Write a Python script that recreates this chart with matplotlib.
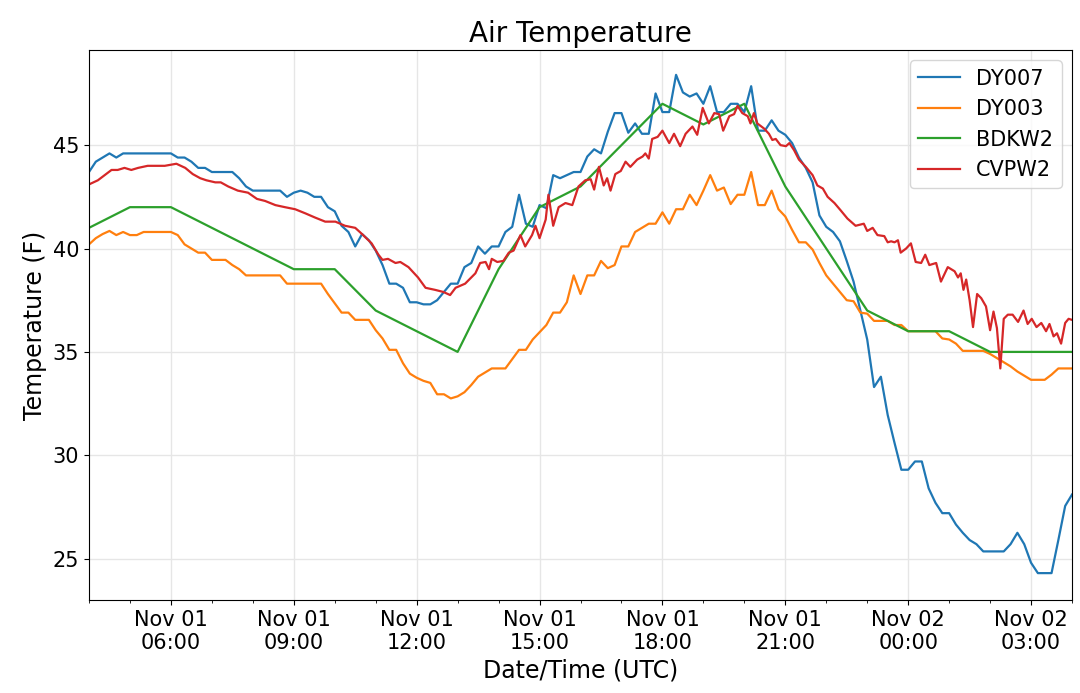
import matplotlib
matplotlib.use('Agg')
import matplotlib.pyplot as plt
import matplotlib.dates as mdates
import pandas as pd

# DY007 and DY003 report every 10 minutes, Nov 01 04:00 -> Nov 02 04:00
start = pd.Timestamp('2018-11-01 04:00')
times_10min = pd.date_range(start, periods=145, freq='10min')

dy007 = [43.7, 44.2, 44.4, 44.6, 44.4, 44.6, 44.6, 44.6, 44.6, 44.6, 44.6, 44.6, 44.6,
         44.4, 44.4, 44.2, 43.9, 43.9, 43.7, 43.7, 43.7, 43.7, 43.4, 43.0, 42.8, 42.8,
         42.8, 42.8, 42.8, 42.5, 42.7, 42.8, 42.7, 42.5, 42.5, 42.0, 41.8, 41.1, 40.8,
         40.1, 40.7, 40.4, 39.9, 39.2, 38.3, 38.3, 38.1, 37.4, 37.4, 37.3, 37.3, 37.5,
         37.9, 38.3, 38.3, 39.1, 39.3, 40.1, 39.75, 40.1, 40.1, 40.8, 41.05, 42.6, 41.2,
         41.05, 42.1, 41.95, 43.55, 43.4, 43.55, 43.7, 43.7, 44.45, 44.8, 44.6, 45.65,
         46.55, 46.55, 45.6, 46.05, 45.55, 45.55, 47.5, 46.6, 46.6, 48.4, 47.55, 47.35,
         47.5, 47.0, 47.85, 46.6, 46.6, 47.0, 47.0, 46.6, 47.85, 45.7, 45.7, 46.2, 45.7,
         45.5, 45.1, 44.4, 43.9, 43.2, 41.6, 41.05, 40.8, 40.35, 39.4, 38.4, 37.0, 35.6,
         33.3, 33.8, 31.95, 30.6, 29.3, 29.3, 29.7, 29.7, 28.4, 27.7, 27.2, 27.2, 26.65,
         26.25, 25.9, 25.7, 25.35, 25.35, 25.35, 25.35, 25.7, 26.25, 25.7, 24.8, 24.3,
         24.3, 24.3, 25.9, 27.55, 28.1]

dy003 = [40.2, 40.5, 40.7, 40.85, 40.65, 40.8, 40.65, 40.65, 40.8, 40.8, 40.8, 40.8, 40.8,
         40.65, 40.2, 40.0, 39.8, 39.8, 39.45, 39.45, 39.45, 39.2, 39.0, 38.7, 38.7, 38.7,
         38.7, 38.7, 38.7, 38.3, 38.3, 38.3, 38.3, 38.3, 38.3, 37.8, 37.35, 36.9, 36.9,
         36.55, 36.55, 36.55, 36.05, 35.65, 35.1, 35.1, 34.45, 33.95, 33.75, 33.6, 33.5,
         32.95, 32.95, 32.75, 32.85, 33.05, 33.4, 33.8, 34.0, 34.2, 34.2, 34.2, 34.65,
         35.1, 35.1, 35.6, 35.95, 36.3, 36.9, 36.9, 37.4, 38.7, 37.8, 38.7, 38.7, 39.4,
         39.05, 39.2, 40.1, 40.1, 40.8, 41.0, 41.2, 41.2, 41.75, 41.2, 41.9, 41.9, 42.6,
         42.1, 42.8, 43.55, 42.8, 42.95, 42.15, 42.6, 42.6, 43.7, 42.1, 42.1, 42.8, 41.9,
         41.55, 40.9, 40.3, 40.3, 39.95, 39.3, 38.7, 38.3, 37.9, 37.5, 37.45, 36.9, 36.85,
         36.5, 36.5, 36.5, 36.3, 36.3, 36.0, 36.0, 36.0, 36.0, 36.0, 35.65, 35.6, 35.4,
         35.05, 35.05, 35.05, 35.05, 34.9, 34.7, 34.5, 34.3, 34.05, 33.85, 33.65, 33.65,
         33.65, 33.9, 34.2, 34.2, 34.2]

# BDKW2 hourly
bdkw2_times = pd.date_range(start, periods=25, freq='h')
bdkw2 = [41, 42, 42, 41, 40, 39, 39, 37, 36, 35, 39, 42, 43, 45, 47, 46, 47, 43, 40, 37,
         36, 36, 35, 35, 35]

# CVPW2 (minutes after 04:00, irregular reports)
cvpw2_min = [0, 13, 23, 33, 42, 52, 62, 72, 86, 111, 128, 141, 152, 163, 172, 185, 193,
             204, 218, 233, 246, 258, 273, 287, 302, 317, 331, 346, 361, 375, 390, 400,
             414, 424, 430, 438, 449, 456, 468, 482, 493, 507, 519, 529, 537, 551, 566,
             573, 581, 586, 590, 598, 607, 615, 622, 632, 639, 649, 654, 660, 669, 673,
             680, 688, 698, 708, 717, 727, 735, 740, 747, 754, 759, 764, 771, 779, 786,
             793, 803, 811, 815, 820, 825, 833, 840, 850, 857, 866, 874, 884, 891, 899,
             908, 916, 923, 929, 938, 945, 950, 957, 965, 969, 974, 979, 989, 996, 1001,
             1006, 1013, 1021, 1026, 1033, 1040, 1050, 1060, 1067, 1075, 1082, 1092, 1101,
             1111, 1123, 1135, 1140, 1148, 1155, 1165, 1170, 1175, 1180, 1185, 1189, 1197,
             1204, 1211, 1219, 1225, 1231, 1241, 1248, 1258, 1268, 1273, 1277, 1281, 1285,
             1290, 1295, 1301, 1307, 1314, 1320, 1325, 1330, 1335, 1340, 1346, 1353, 1361,
             1369, 1375, 1381, 1388, 1395, 1402, 1407, 1413, 1418, 1424, 1430, 1435, 1440]
cvpw2 = [43.1, 43.3, 43.55, 43.8, 43.8, 43.9, 43.8, 43.9, 44.0, 44.0, 44.1, 43.9, 43.6,
         43.4, 43.3, 43.2, 43.2, 43.0, 42.8, 42.7, 42.4, 42.3, 42.1, 42.0, 41.9, 41.7,
         41.5, 41.3, 41.3, 41.1, 41.0, 40.7, 40.25, 39.7, 39.45, 39.5, 39.3, 39.35, 39.1,
         38.6, 38.1, 38.0, 37.9, 37.75, 38.1, 38.3, 38.8, 39.3, 39.35, 39.0, 39.5, 39.35,
         39.4, 39.8, 39.9, 40.65, 40.1, 40.65, 41.1, 40.5, 41.4, 42.6, 41.1, 42.0, 42.2,
         42.1, 43.0, 43.3, 43.35, 42.85, 43.95, 43.05, 43.4, 42.8, 43.6, 43.75, 44.2,
         43.95, 44.3, 44.45, 44.6, 44.35, 45.3, 45.4, 45.7, 45.1, 45.55, 44.95, 45.55,
         45.9, 45.5, 46.8, 46.05, 46.55, 46.5, 45.7, 46.4, 46.5, 46.9, 46.55, 46.4, 46.05,
         46.55, 46.05, 45.8, 45.55, 45.25, 45.3, 45.0, 44.95, 45.1, 44.75, 44.3, 43.95,
         43.55, 43.05, 42.9, 42.5, 42.2, 41.85, 41.45, 41.1, 41.2, 40.85, 41.0, 40.65,
         40.6, 40.3, 40.35, 40.3, 40.4, 39.8, 40.0, 40.25, 39.35, 39.3, 39.7, 39.2, 39.3,
         38.4, 39.1, 38.9, 38.6, 38.8, 38.0, 38.5, 37.5, 36.2, 37.8, 37.6, 37.2, 36.05,
         36.95, 36.15, 34.2, 36.6, 36.8, 36.8, 36.45, 37.0, 36.35, 36.6, 36.2, 36.4, 36.0,
         36.35, 35.75, 35.9, 35.4, 36.4, 36.6, 36.55]
cvpw2_times = start + pd.to_timedelta(cvpw2_min, unit='min')

fig, ax = plt.subplots(figsize=(10.8, 6.93), dpi=100)
fig.subplots_adjust(left=0.0824, right=0.9926, top=0.9278, bottom=0.1342)

ax.plot(times_10min, dy007, color='#1f77b4', lw=1.6, label='DY007')
ax.plot(times_10min, dy003, color='#ff7f0e', lw=1.6, label='DY003')
ax.plot(bdkw2_times, bdkw2, color='#2ca02c', lw=1.6, label='BDKW2')
ax.plot(cvpw2_times, cvpw2, color='#d62728', lw=1.6, label='CVPW2')

ax.set_xlim(times_10min[0], times_10min[-1])
ax.set_ylim(23.0, 49.6)

ax.xaxis.set_major_locator(mdates.HourLocator(byhour=range(0, 24, 3)))
ax.xaxis.set_minor_locator(mdates.HourLocator())
ax.xaxis.set_major_formatter(mdates.DateFormatter('%b %d\n%H:%M'))
ax.set_yticks([25, 30, 35, 40, 45])

ax.grid(True, which='major', color='#e6e6e6', lw=1)
ax.tick_params(axis='both', which='major', labelsize=15)
ax.set_title('Air Temperature', fontsize=20)
ax.set_xlabel('Date/Time (UTC)', fontsize=17)
ax.set_ylabel('Temperature (F)', fontsize=17)
ax.legend(loc='upper right', fontsize=15)

fig.savefig('out.png', dpi=100)
